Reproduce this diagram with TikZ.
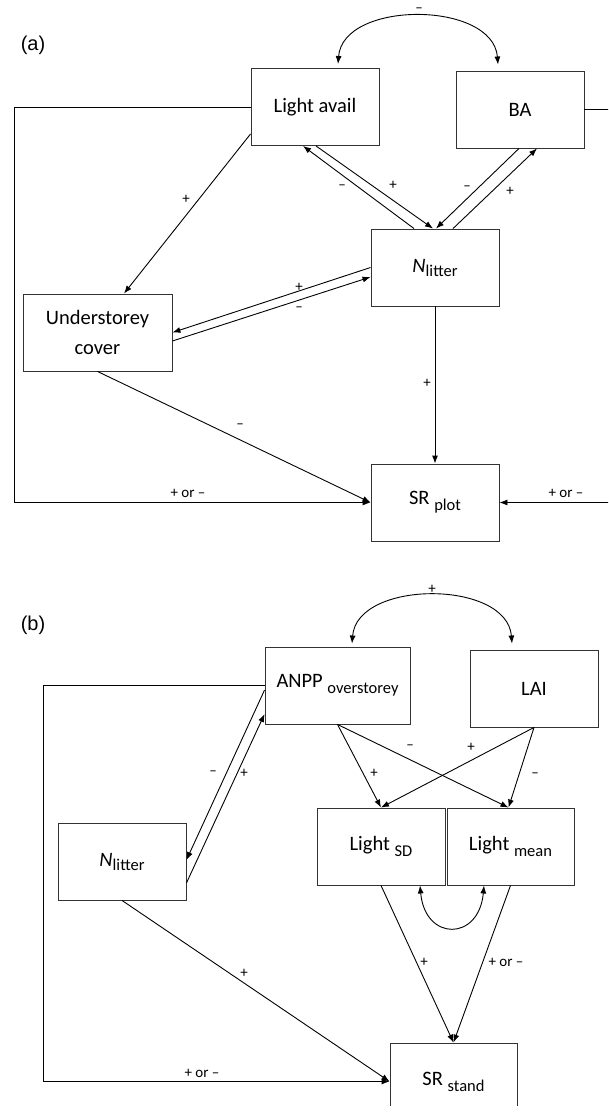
\documentclass[tikz,border=0pt]{standalone}
\usepackage{fontspec}
\setmainfont{Carlito}
\newfontfamily\labfont{Liberation Sans}
\usetikzlibrary{arrows.meta,calc}
\newcommand{\sbs}[2][6pt]{\raisebox{-#1}{\fontsize{16.5}{16.5}\selectfont #2}}
\tikzset{
  box/.style={draw=black!80, line width=0.9pt, minimum width=128pt, minimum height=77pt,
    inner sep=0pt, font=\fontsize{20.5}{30}\selectfont, align=center},
  conn/.style={line width=0.9pt, -{Latex[length=8pt,width=6pt]}},
  dconn/.style={line width=0.9pt, {Latex[length=8pt,width=6pt]}-{Latex[length=8pt,width=6pt]}},
  lab/.style={font=\fontsize{15}{15}\selectfont, inner sep=0pt},
  plab/.style={font=\labfont\fontsize{20}{20}\selectfont, inner sep=0pt},
}
\begin{document}
\begin{tikzpicture}[x=1pt,y=-1pt]
\useasboundingbox (0,0) rectangle (608,1115);
\clip (0,0) rectangle (608,1105);
% ---------------- panel (a) ----------------
\node[plab] (pa) at (33,45) {(a)};
\node[box] (la) at (315,107) {Light avail};
\node[box] (ba) at (520,109.5) {BA};
\node[box] (nl) at (435,267.5) {\textit{N}\sbs[4pt]{litter}};
\node[box, minimum width=149pt] (uc) at (97.5,332.5) {Understorey\\cover};
\node[box] (srp) at (435,502.5) {SR \sbs{plot}};
\coordinate (lca) at (14,107);
\coordinate (rca) at (630,300);

\draw[dconn] ([xshift=23pt,yshift=4pt]la.north) .. controls +(5,-64) and +(-5,-64) .. ([xshift=-22pt,yshift=6pt]ba.north);
\draw[conn] (la.west) -- (lca) |- (srp.west);
\draw[conn] (ba.east) -| (rca) |- (srp.east);
\draw[conn] ([yshift=12pt]la.south west) -- ([xshift=26.5pt]uc.north);
\draw[conn] ([xshift=-21pt]nl.north) -- ([xshift=-12pt]la.south);
\draw[conn] ([xshift=1pt]la.south) -- ([xshift=-2pt]nl.north);
\draw[conn] ([xshift=-1pt]ba.south) -- ([xshift=1pt]nl.north);
\draw[conn] ([xshift=18pt]nl.north) -- ([xshift=17pt]ba.south);
\draw[conn] (nl.west) -- (uc.east);
\draw[conn] ([yshift=-8.5pt]uc.east) -- ([yshift=-9.5pt]nl.west);
\draw[conn] (nl.south) -- (srp.north);
\draw[conn] (uc.south) -- (srp.west);

\node[lab] (a1) at (419,10) {–};
\node[lab] (a2) at (186,199) {+};
\node[lab] (a3) at (342,187) {–};
\node[lab] (a4) at (393,185) {+};
\node[lab] (a5) at (467,188) {–};
\node[lab] (a6) at (510,191) {+};
\node[lab] (a7) at (299,287) {+};
\node[lab] (a8) at (299,309) {–};
\node[lab] (a9) at (427,383) {+};
\node[lab] (a10) at (240,426) {–};
\node[lab] (a11) at (188,493) {+ or –};
\node[lab] (a12) at (566,493) {+ or –};

% ---------------- panel (b) ----------------
\node[plab] (pb) at (33,625) {(b)};
\node[box, minimum width=145pt] (anpp) at (337.5,685.5) {ANPP \sbs{overstorey}};
\node[box] (lai) at (534,688.5) {LAI};
\node[box] (nlb) at (122,861.5) {\textit{N}\sbs[4pt]{litter}};
\node[box] (lsd) at (381,846.5) {Light \sbs{SD}};
\node[box, minimum width=127pt] (lmean) at (510.5,846.5) {Light \sbs{mean}};
\node[box, minimum width=127pt] (srs) at (453.5,1081.5) {SR \sbs{stand}};
\coordinate (lcb) at (43,685.5);

\draw[dconn] ([xshift=14.5pt,yshift=3pt]anpp.north) .. controls +(5,-64) and +(-5,-64) .. ([xshift=-22pt,yshift=6pt]lai.north);
\draw[conn] (anpp.west) -- (lcb) |- (srs.west);
\draw[conn] ([yshift=-4.5pt]anpp.west) -- ([yshift=1.5pt]nlb.east);
\draw[conn] ([yshift=-21.5pt]nlb.east) -- ([yshift=-28.5pt]anpp.west);
\draw[conn] (anpp.south) -- (lsd.north);
\draw[conn] (anpp.south) -- ([xshift=-2pt]lmean.north);
\draw[conn] (lai.south) -- (lsd.north);
\draw[conn] (lai.south) -- ([xshift=-2pt]lmean.north);
\draw[dconn] ([xshift=39pt]lsd.south) .. controls +(5,56) and +(-5,56) .. ([xshift=-26.5pt]lmean.south);
\draw[conn] (lsd.south) -- (srs.north);
\draw[conn] (lmean.south) -- (srs.north);
\draw[conn] (nlb.south) -- (srs.west);

\node[lab] (b1) at (432,589) {+};
\node[lab] (b2) at (213,773) {–};
\node[lab] (b3) at (244,773) {+};
\node[lab] (b4) at (374,773) {+};
\node[lab] (b5) at (410,747) {–};
\node[lab] (b6) at (471,747) {+};
\node[lab] (b7) at (535,775) {–};
\node[lab] (b8) at (424,962) {+};
\node[lab] (b9) at (506,962) {+ or –};
\node[lab] (b10) at (244,973) {+};
\node[lab] (b11) at (202,1073) {+ or –};
\end{tikzpicture}
\end{document}
